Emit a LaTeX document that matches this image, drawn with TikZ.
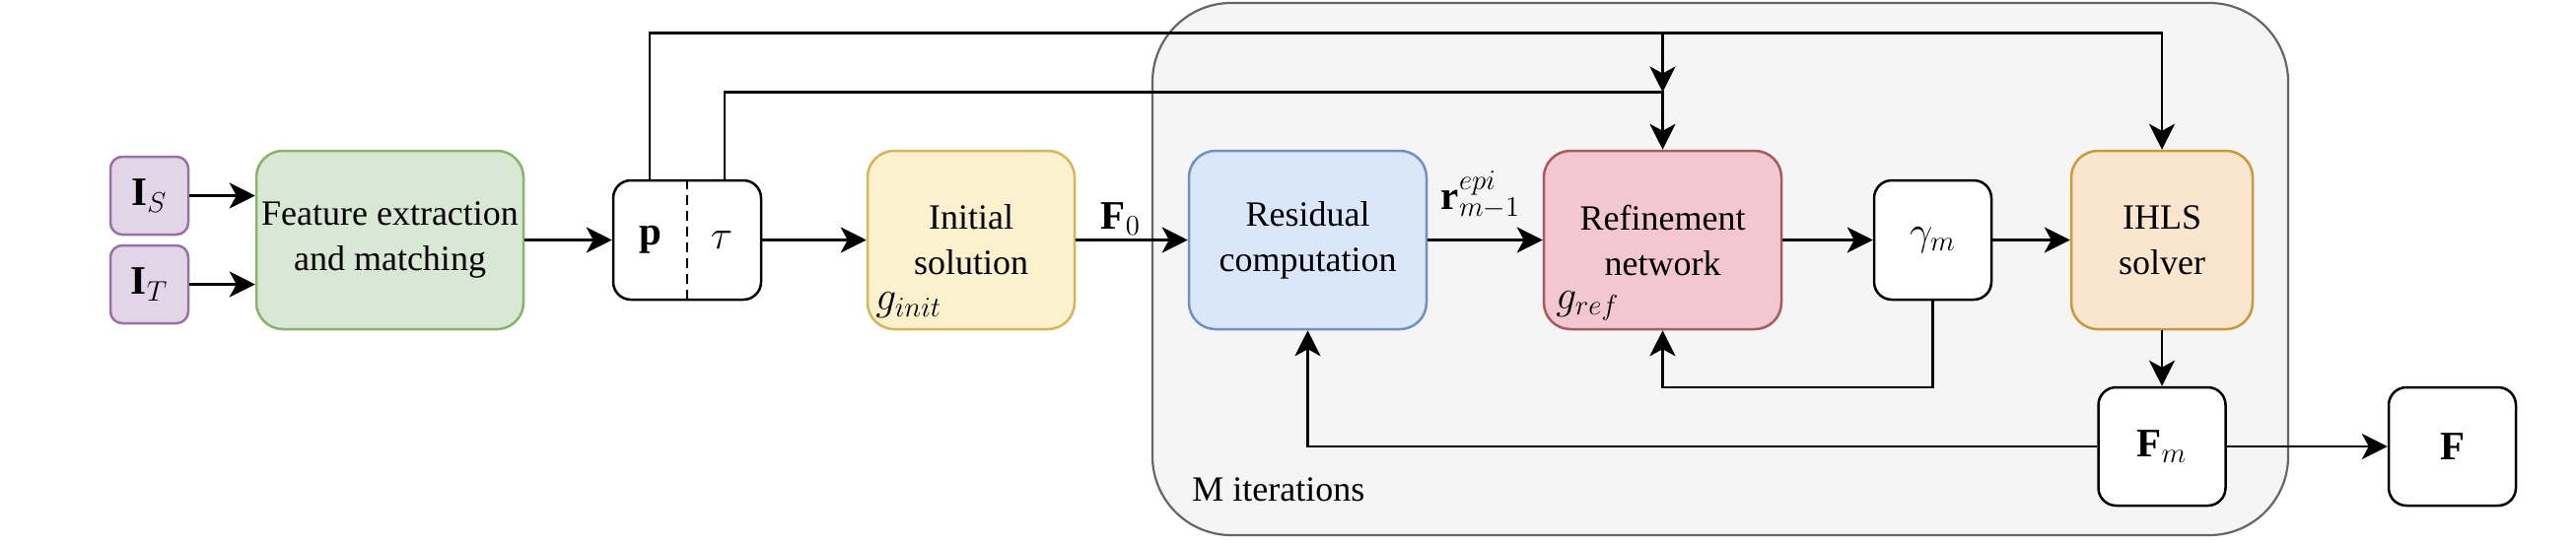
\documentclass[tikz,border=0pt]{standalone}
\usepackage{fontspec}
\setmainfont{Liberation Serif}
\usetikzlibrary{arrows.meta,calc}
\definecolor{purpF}{HTML}{E1D5E7}\definecolor{purpD}{HTML}{9673A6}
\definecolor{grnF}{HTML}{D9E8D4}\definecolor{grnD}{HTML}{88B46A}
\definecolor{yelF}{HTML}{FCF1CD}\definecolor{yelD}{HTML}{D6B656}
\definecolor{bluF}{HTML}{DAE6FA}\definecolor{bluD}{HTML}{7090C0}
\definecolor{redF}{HTML}{F2C7D2}\definecolor{redD}{HTML}{A85A5F}
\definecolor{orgF}{HTML}{FAE6CF}\definecolor{orgD}{HTML}{C99A35}
\definecolor{conF}{HTML}{F5F5F5}\definecolor{conD}{HTML}{666666}
\newcommand\mth[1]{{\fontsize{20.5pt}{24pt}\selectfont$#1$}}
\begin{document}
\begin{tikzpicture}[x=0.5pt,y=-0.5pt,
  every node/.style={font=\fontsize{18pt}{23pt}\selectfont},
  box/.style={draw, line width=1.25pt, inner sep=0pt, align=center},
  lbl/.style={inner sep=0pt},
  arr/.style={line width=1.4pt, -{Stealth[length=13pt,width=13pt,inset=3.5pt]}}]
\useasboundingbox (0,0) rectangle (2613,553);
% container
\node[box, draw=conD, fill=conF, line width=1.1pt, rounded corners=40pt,
  minimum width=576pt, minimum height=270pt] (cont) at (1745,273) {};
\node[lbl, anchor=west] (miter) at (1209,497) {M iterations};
% boxes
\node[box, draw=purpD, fill=purpF, rounded corners=6pt, minimum width=39.5pt, minimum height=39.5pt] (IS) at (151.5,198.5) {\mth{\mathbf{I}_S}};
\node[box, draw=purpD, fill=purpF, rounded corners=6pt, minimum width=39.5pt, minimum height=39.5pt] (IT) at (151.5,288.5) {\mth{\mathbf{I}_T}};
\node[box, draw=grnD, fill=grnF, rounded corners=13.5pt, minimum width=135.5pt, minimum height=90.5pt] (feat) at (395.5,243.5) {Feature extraction\\and matching};
\node[box, draw=black, fill=white, rounded corners=9pt, minimum width=75pt, minimum height=60.5pt] (ptau) at (697,243.5) {};
\draw[line width=1.1pt, dash pattern=on 5pt off 3pt] (ptau.north) -- (ptau.south);
\node[lbl] (pl) at (660,243.5) {\mth{\mathbf{p}}};
\node[lbl] (tl) at (732,243.5) {\mth{\tau}};
\node[box, draw=yelD, fill=yelF, rounded corners=13.5pt, minimum width=105pt, minimum height=90.5pt] (init) at (985,243.5) {Initial\\solution};
\node[lbl, anchor=west] (ginit) at (888,310) {\mth{g_{init}}};
\node[box, draw=bluD, fill=bluF, rounded corners=13.5pt, minimum width=120.5pt, minimum height=90.5pt] (resid) at (1326.5,243.5) {Residual\\computation};
\node[box, draw=redD, fill=redF, rounded corners=13.5pt, minimum width=120.5pt, minimum height=90.5pt] (refine) at (1686.5,243.5) {Refinement\\network};
\node[lbl, anchor=west] (gref) at (1578,310) {\mth{g_{ref}}};
\node[box, draw=black, fill=white, rounded corners=9pt, minimum width=59.5pt, minimum height=60.5pt] (gamma) at (1960.5,243.5) {\mth{\gamma_m}};
\node[box, draw=orgD, fill=orgF, rounded corners=13.5pt, minimum width=92pt, minimum height=90.5pt] (ihls) at (2193,243.5) {IHLS\\solver};
\node[box, draw=black, fill=white, rounded corners=9pt, minimum width=64.5pt, minimum height=60pt] (Fm) at (2193,453) {\mth{\mathbf{F}_m}};
\node[box, draw=black, fill=white, rounded corners=9pt, minimum width=64.5pt, minimum height=60pt] (F) at (2487.5,453) {\mth{\mathbf{F}}};
% labels
\node[lbl] (F0) at (1137,222) {\mth{\mathbf{F}_0}};
\node[lbl] (rl) at (1502,198) {\mth{\mathbf{r}^{epi}_{m-1}}};
% coordinates
\coordinate (pS) at (659,183);
\coordinate (tS) at (735,183);
\coordinate (top) at (0,33.5);
\coordinate (mid) at (0,93.5);
\coordinate (low) at (0,393);
% connectors
\draw[arr] (IS) -- (IS -| feat.west);
\draw[arr] (IT) -- (IT -| feat.west);
\draw[arr] (feat) -- (ptau);
\draw[arr] (ptau) -- (init);
\draw[arr] (init) -- (resid);
\draw[arr] (resid) -- (refine);
\draw[arr] (refine) -- (gamma);
\draw[arr] (gamma) -- (ihls);
\draw[arr] (ihls) -- (Fm);
\draw[arr] (Fm) -- (F);
\draw[arr] (Fm.west) -| (resid.south);
\draw[arr] (gamma.south) -- (gamma.south |- low) -| (refine.south);
\draw[arr] (pS) -- (pS |- top) -| (ihls.north);
\draw[arr] (refine.north |- top) -- (refine.north |- mid);
\draw[arr] (tS) -- (tS |- mid) -| (refine.north);
\end{tikzpicture}
\end{document}
